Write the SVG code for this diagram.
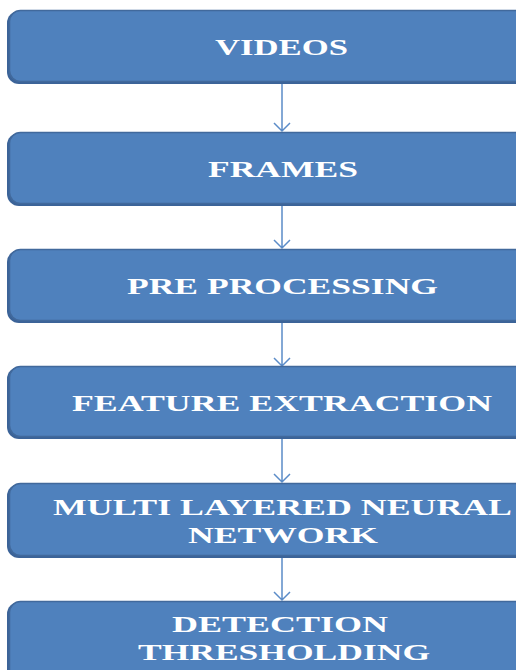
<svg xmlns="http://www.w3.org/2000/svg" width="516" height="670" viewBox="0 0 516 670">
<style>
.sh{fill:#3B6398}
.bx{fill:#4F81BD;stroke:#41699C;stroke-width:1.5}
.t{font-family:"Liberation Serif","Times New Roman",serif;font-weight:bold;font-size:23px;fill:#FFFFFF;text-anchor:start}
.c{stroke:#5B8CC8;stroke-width:1.5;fill:none}
</style>
<rect width="516" height="670" fill="#FFFFFF"/>
<g id="connectors">
<path class="c" d="M282,84 V131 M274,123 L282,131 L290,123"/>
<path class="c" d="M282,206 V248 M274,240 L282,248 L290,240"/>
<path class="c" d="M282,323 V366 M274,358 L282,366 L290,358"/>
<path class="c" d="M282,439 V482 M274,474 L282,482 L290,474"/>
<path class="c" d="M282,558 V600 M274,592 L282,600 L290,592"/>
</g>
<g id="videos">
<rect class="sh" x="7" y="11" width="530" height="73" rx="12"/>
<rect class="bx" x="9.5" y="10.5" width="530" height="71" rx="11"/>
<text class="t" x="215" y="55" textLength="133" lengthAdjust="spacingAndGlyphs">VIDEOS</text>
</g>
<g id="frames">
<rect class="sh" x="7" y="133" width="530" height="73" rx="12"/>
<rect class="bx" x="9.5" y="132.5" width="530" height="71" rx="11"/>
<text class="t" x="208" y="177" textLength="150" lengthAdjust="spacingAndGlyphs">FRAMES</text>
</g>
<g id="preprocessing">
<rect class="sh" x="7" y="250" width="530" height="73" rx="12"/>
<rect class="bx" x="9.5" y="249.5" width="530" height="71" rx="11"/>
<text class="t" x="127" y="294" textLength="311" lengthAdjust="spacingAndGlyphs">PRE PROCESSING</text>
</g>
<g id="featureextraction">
<rect class="sh" x="7" y="367" width="530" height="72" rx="12"/>
<rect class="bx" x="9.5" y="366.5" width="530" height="70" rx="11"/>
<text class="t" x="72" y="411" textLength="420" lengthAdjust="spacingAndGlyphs">FEATURE EXTRACTION</text>
</g>
<g id="neuralnetwork">
<rect class="sh" x="7" y="484" width="530" height="74" rx="12"/>
<rect class="bx" x="9.5" y="483.5" width="530" height="72" rx="11"/>
<text class="t" x="53" y="515" textLength="459" lengthAdjust="spacingAndGlyphs">MULTI LAYERED NEURAL</text>
<text class="t" x="188" y="543" textLength="190" lengthAdjust="spacingAndGlyphs">NETWORK</text>
</g>
<g id="detection">
<rect class="sh" x="7" y="602" width="530" height="80" rx="12"/>
<rect class="bx" x="9.5" y="601.5" width="530" height="80" rx="11"/>
<text class="t" x="172" y="632" textLength="216" lengthAdjust="spacingAndGlyphs">DETECTION</text>
<text class="t" x="138" y="660" textLength="292" lengthAdjust="spacingAndGlyphs">THRESHOLDING</text>
</g>
</svg>
